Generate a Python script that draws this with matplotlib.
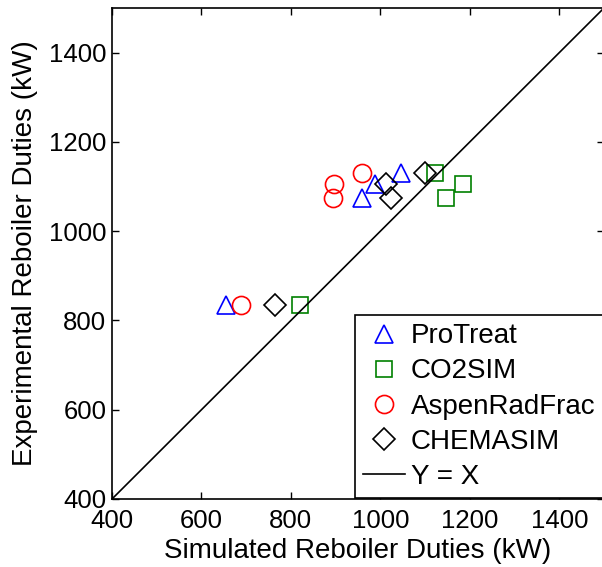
import numpy as np
import matplotlib.pyplot as plt

plt.rcParams['font.family'] = ['Liberation Sans', 'DejaVu Sans']

# experimental duties (kW), shared by every simulator
exp_duty = [835, 1075, 1105, 1130]

# simulated duties per program, in the same order as exp_duty
protreat = [655, 958, 987, 1047]
co2sim = [820, 1147, 1184, 1122]
aspen = [689, 893, 896, 958]
chemasim = [764, 1023, 1012, 1100]

ticks = [400, 600, 800, 1000, 1200, 1400]
lims = [400, 1500]

W, H = 602, 567
fig = plt.figure(figsize=(W / 100, H / 100), dpi=100)
ax = fig.add_axes([112 / W, (H - 499) / H, 492 / W, 491 / H])

fs = 18.5
lfs = 20
ms = 13
mew = 1.2
ax.plot(protreat, exp_duty, '^', ms=ms, mfc='none', mec='blue', mew=mew, ls='none', label='ProTreat')
ax.plot(co2sim, exp_duty, 's', ms=ms - 1, mfc='none', mec=(0, 0.5, 0), mew=mew, ls='none', label='CO2SIM')
ax.plot(aspen, exp_duty, 'o', ms=ms, mfc='none', mec='red', mew=mew, ls='none', label='AspenRadFrac')
ax.plot(chemasim, exp_duty, 'D', ms=ms - 2, mfc='none', mec='black', mew=mew, ls='none', label='CHEMASIM')
ax.plot(lims, lims, '-', color='black', lw=1.2, label='Y = X')

ax.set_xlim(lims)
ax.set_ylim(lims)
ax.set_xticks(ticks)
ax.set_yticks(ticks)
ax.tick_params(direction='in', length=5, width=1, labelsize=fs, top=True, right=True)
ax.tick_params(axis='x', pad=7)
ax.tick_params(axis='y', pad=4)
for s in ax.spines.values():
    s.set_linewidth(1.2)

ax.set_xlabel('Simulated Reboiler Duties (kW)', fontsize=lfs, labelpad=4)
ax.set_ylabel('Experimental Reboiler Duties (kW)', fontsize=lfs, labelpad=8)

leg = ax.legend(loc='upper left', bbox_to_anchor=(355 / W, 1 - 315 / H), bbox_transform=fig.transFigure,
                fontsize=lfs, frameon=True, fancybox=False, edgecolor='black', framealpha=1,
                handlelength=1.5, handletextpad=0.2, labelspacing=0.33, borderpad=0.3, borderaxespad=0)
leg.get_frame().set_linewidth(1.2)

fig.savefig('out.png', dpi=100)
